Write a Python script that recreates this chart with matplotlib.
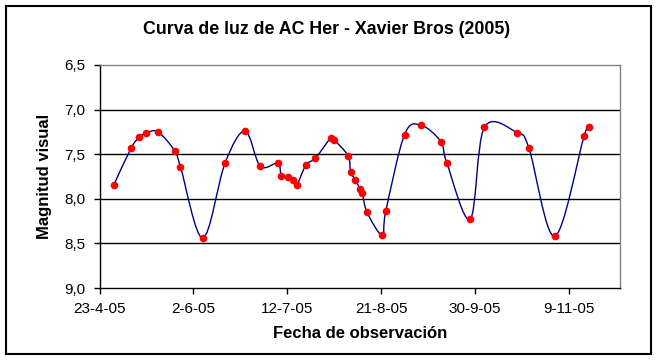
import numpy as np
import pandas as pd
import matplotlib
matplotlib.use("Agg")
import matplotlib.pyplot as plt
import matplotlib.dates as mdates
from matplotlib.path import Path
from matplotlib.patches import PathPatch, Rectangle
from matplotlib.ticker import FixedLocator, FuncFormatter

plt.rcParams['font.family'] = ['Liberation Sans', 'DejaVu Sans']

fechas = ["2005-04-29", "2005-05-06 12:00", "2005-05-10", "2005-05-13",
          "2005-05-18", "2005-05-25", "2005-05-27 12:00", "2005-06-06",
          "2005-06-15 12:00", "2005-06-24", "2005-06-30 12:00", "2005-07-08",
          "2005-07-09 12:00", "2005-07-12 12:00", "2005-07-14 12:00", "2005-07-16",
          "2005-07-20", "2005-07-24", "2005-07-30 12:00", "2005-08-01",
          "2005-08-07", "2005-08-08", "2005-08-10", "2005-08-12", "2005-08-13",
          "2005-08-15", "2005-08-21 12:00", "2005-08-23", "2005-08-31",
          "2005-09-07", "2005-09-15 12:00", "2005-09-18", "2005-09-28",
          "2005-10-04", "2005-10-18", "2005-10-23", "2005-11-03",
          "2005-11-15 12:00", "2005-11-17 12:00"]
magnitudes = [7.85, 7.43, 7.31, 7.26, 7.25, 7.46, 7.64, 8.44, 7.60,
              7.24, 7.635, 7.60, 7.74, 7.75, 7.79, 7.85, 7.62,
              7.545, 7.32, 7.34, 7.52, 7.70, 7.785, 7.89, 7.93,
              8.15, 8.41, 8.14, 7.28, 7.175, 7.36, 7.595, 8.23, 7.20,
              7.26, 7.43, 8.42, 7.30, 7.20]

eje_inicio = "2005-04-23"
eje_fin = "2005-11-30 20:00"
paso_dias = 40
y_ticks = [6.5, 7.0, 7.5, 8.0, 8.5, 9.0]

x = mdates.date2num(pd.to_datetime(fechas, format='mixed').to_pydatetime())
y = np.array(magnitudes)


def smooth_path(xs, ys):
    # Excel-style smoothed line: cubic Bezier segments with Catmull-Rom handles
    pts = np.column_stack([xs, ys])
    n = len(pts)
    verts = [pts[0]]
    codes = [Path.MOVETO]
    for i in range(n - 1):
        p0 = pts[i - 1] if i > 0 else pts[i]
        p1 = pts[i]
        p2 = pts[i + 1]
        p3 = pts[i + 2] if i + 2 < n else pts[i + 1]
        c1 = p1 + (p2 - p0) / 6.0
        c2 = p2 - (p3 - p1) / 6.0
        verts += [c1, c2, p2]
        codes += [Path.CURVE4] * 3
    return Path(verts, codes)


fig = plt.figure(figsize=(6.58, 3.62), dpi=100)
W, H = 658, 362
ax = fig.add_axes([99.5 / W, 1 - 288 / H, (620 - 99.5) / W, (288 - 65) / H])

ax.add_patch(PathPatch(smooth_path(x, y), fill=False, edgecolor='#000080', lw=1.0, zorder=3))
ax.plot(x, y, 'o', color='#ff0000', markersize=5.5, markeredgewidth=0, zorder=4)

x0 = mdates.date2num(pd.Timestamp(eje_inicio))
x1 = mdates.date2num(pd.Timestamp(eje_fin))
ax.set_xlim(x0, x1)
ax.set_ylim(9.0, 6.5)

ax.xaxis.set_major_locator(FixedLocator(np.arange(x0, x1, paso_dias)))
ax.xaxis.set_major_formatter(FuncFormatter(
    lambda v, p: "{}-{}-{}".format(mdates.num2date(v).day, mdates.num2date(v).month,
                                   mdates.num2date(v).strftime("%y"))))
ax.yaxis.set_major_locator(FixedLocator(y_ticks))
ax.yaxis.set_major_formatter(FuncFormatter(lambda v, p: f"{v:.1f}".replace(".", ",")))

for v in y_ticks[1:-1]:
    ax.axhline(v, color='black', lw=1.0, zorder=1)

ax.spines['top'].set_color('#808080')
ax.spines['right'].set_color('#808080')
ax.spines['left'].set_color('black')
ax.spines['bottom'].set_color('black')
for s in ax.spines.values():
    s.set_linewidth(1.0)

ax.tick_params(direction='out', length=4, width=1, labelsize=11, colors='black', pad=6)

fig.text(327 / W, 1 - 30 / H, "Curva de luz de AC Her - Xavier Bros (2005)",
         fontsize=12.8, fontweight='bold', ha='center', va='center')
ax.set_xlabel("Fecha de observación", fontsize=12, fontweight='bold', labelpad=7)
ax.set_ylabel("Magnitud visual", fontsize=12, fontweight='bold', labelpad=9)

fig.patches.append(Rectangle((6 / W, 1 - 354 / H), (651 - 6) / W, (354 - 6) / H,
                             transform=fig.transFigure, fill=False,
                             edgecolor='black', lw=1.5))

fig.savefig("out.png", dpi=100)
